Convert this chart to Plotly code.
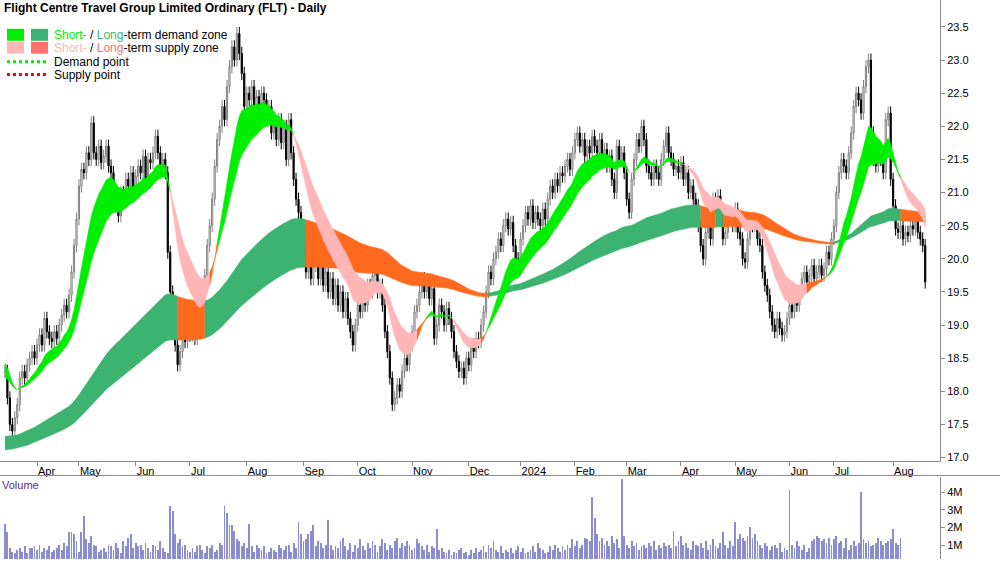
import numpy as np
import pandas as pd
import plotly.graph_objects as go

closes = [
18.3,17.9,17.5,17.4,17.6,17.8,18.2,18.3,18.2,18.4,
18.5,18.6,18.5,18.7,18.85,18.7,19.1,18.9,18.8,18.75,
18.9,18.8,19.0,19.15,19.3,19.2,19.45,19.8,20.2,20.6,
21.1,21.35,21.3,21.6,21.5,22.05,21.6,21.5,21.7,21.45,
21.55,21.7,21.4,21.3,21.0,20.8,20.65,21.0,20.9,21.2,
21.1,21.3,21.0,21.25,21.4,21.3,21.55,21.2,21.5,21.45,
21.6,21.85,21.6,21.4,21.5,21.3,20.1,19.5,19.0,18.7,
18.4,18.6,18.9,18.75,19.0,18.85,19.05,18.8,18.9,19.1,
19.4,19.75,20.2,20.5,20.9,21.4,21.8,22.0,22.3,22.1,
22.6,22.9,23.2,23.0,23.4,23.1,22.8,22.3,22.5,22.4,
22.6,22.2,22.45,22.3,22.5,22.4,22.1,22.3,21.9,22.0,
21.8,22.1,21.75,22.0,21.5,22.1,21.6,21.2,20.9,20.7,
20.45,20.2,19.8,20.0,19.7,19.9,20.1,19.7,19.9,19.6,
19.8,19.5,19.7,19.4,19.6,19.3,19.5,19.2,19.4,19.1,
18.9,18.7,19.0,19.3,19.2,19.45,19.3,19.6,19.5,19.75,
19.8,19.5,19.6,19.3,18.9,18.6,18.2,17.8,17.9,18.1,
18.0,18.3,18.5,18.4,18.7,18.9,19.2,19.3,19.5,19.7,
19.5,19.6,19.4,19.55,18.8,19.0,19.3,19.2,19.0,19.25,
19.1,18.9,18.6,18.45,18.3,18.35,18.2,18.5,18.4,18.7,
18.6,18.8,18.75,19.0,19.2,19.5,19.8,19.7,20.0,20.1,
20.3,20.2,20.5,20.6,20.45,20.55,20.2,20.0,19.85,20.3,
20.5,20.7,20.6,20.8,20.55,20.7,20.6,20.5,20.75,20.6,
20.9,21.1,21.0,21.2,21.1,21.3,21.25,21.4,21.5,21.35,
21.6,21.8,21.9,21.7,21.8,21.55,21.7,21.6,21.85,21.7,
21.6,21.8,21.5,21.65,21.4,21.55,21.2,21.0,21.7,21.5,
21.6,21.3,20.9,20.7,21.2,21.5,21.8,21.7,22.0,21.8,
21.4,21.3,21.2,21.4,21.3,21.2,21.5,21.7,21.9,21.6,
21.5,21.35,21.4,21.3,21.45,21.2,21.3,21.0,21.1,20.9,
20.8,20.5,20.2,20.0,20.4,20.6,20.3,20.9,20.8,20.95,
20.6,20.3,20.4,20.7,20.6,20.5,20.75,20.4,20.3,20.0,
19.95,20.3,20.6,20.5,20.55,20.3,20.2,19.8,19.6,19.45,
19.2,19.0,18.9,19.1,18.95,18.85,18.9,19.1,19.3,19.2,
19.4,19.3,19.5,19.7,19.8,19.65,19.75,19.9,19.7,19.8,
19.9,19.75,19.85,20.1,20.0,20.3,20.5,21.0,21.3,21.5,
21.4,21.3,21.6,21.9,22.3,22.5,22.4,22.2,22.6,22.9,
23.0,21.9,21.5,21.4,21.6,21.5,21.3,22.1,22.2,21.2,
20.8,20.45,20.4,20.5,20.3,20.4,20.35,20.5,20.45,20.6,
20.4,20.3,20.2,19.65]

volume = [
2.2,1.7,0.8,0.6,0.5,0.7,0.8,0.6,0.9,0.5,
0.8,0.8,0.9,0.7,1.0,0.6,0.8,0.7,0.9,0.6,
0.7,0.8,1.0,0.7,1.1,0.9,1.7,1.7,1.6,1.2,
0.6,1.7,2.6,1.3,1.1,1.5,1.0,0.9,0.6,0.7,
0.8,0.6,1.0,0.9,0.7,1.1,0.8,0.5,1.2,0.9,
1.4,1.6,0.8,1.1,0.9,1.0,0.7,1.1,0.8,0.6,
1.0,0.9,0.7,1.2,0.8,0.6,0.5,3.2,2.9,1.6,
1.1,1.3,0.9,1.0,0.7,0.6,0.8,0.6,0.9,1.0,
0.7,0.5,0.9,0.8,1.0,0.6,0.7,1.1,1.0,3.2,
2.8,2.1,2.1,1.8,1.3,1.2,0.9,1.1,0.8,2.2,
0.9,0.6,1.0,0.8,0.7,0.9,0.5,0.6,0.8,0.7,
0.6,1.0,0.8,0.7,0.9,1.0,0.6,1.1,0.8,2.3,
1.6,1.2,1.3,1.6,1.8,2.1,0.9,1.2,1.1,0.8,
1.0,2.4,1.0,0.7,0.9,0.8,1.2,1.4,0.9,0.7,
1.1,0.6,1.0,0.8,1.3,0.9,0.7,1.1,0.8,1.2,
1.0,0.6,0.9,1.3,1.1,0.7,1.0,0.8,1.2,1.4,
0.8,1.1,0.9,1.2,1.0,0.7,0.8,1.3,1.1,0.9,
0.7,1.0,0.6,0.9,0.8,1.9,0.7,0.8,0.6,0.5,
0.7,0.4,0.6,0.5,0.7,0.8,0.5,0.6,0.4,0.7,
0.5,0.8,0.6,0.7,0.9,0.6,1.0,0.8,1.2,0.7,
0.6,0.9,0.5,0.7,0.6,0.8,0.5,0.7,0.9,0.6,
0.8,0.5,0.6,0.7,0.9,0.6,1.1,0.8,0.7,0.5,
0.6,0.9,0.7,1.0,0.8,0.6,0.9,0.7,1.0,0.8,
1.3,0.9,1.2,0.8,1.0,1.4,1.3,1.2,3.7,2.5,
1.6,1.2,1.4,1.0,1.2,0.9,1.5,1.1,1.3,0.8,
4.7,1.5,1.0,0.8,1.2,0.9,1.1,0.7,0.9,1.0,
0.8,1.1,0.9,1.2,0.7,1.0,0.8,1.1,0.9,1.0,
0.8,1.8,0.9,1.2,1.5,1.0,1.1,0.8,0.7,1.2,
1.0,0.9,1.1,0.8,1.2,0.7,1.0,1.3,0.9,0.8,
1.1,1.7,1.0,0.8,1.2,0.9,2.3,1.3,1.6,1.4,
1.2,1.5,2.0,1.4,1.6,1.2,1.0,0.8,1.1,0.9,
0.7,0.9,1.0,0.8,1.1,0.6,0.8,0.7,4.1,1.0,
0.8,1.2,0.9,0.7,1.0,0.6,0.8,1.2,1.3,1.5,
1.4,1.2,1.3,1.1,1.4,1.0,1.3,1.5,1.1,1.2,
0.8,1.4,0.7,1.0,1.2,0.9,1.1,4.0,1.3,1.1,
1.2,0.9,1.0,1.1,1.4,1.2,1.0,1.1,1.2,1.3,
1.9,1.1,1.0,1.4]

month_idx = [13, 30, 53, 75, 98, 121, 143, 165, 188, 209, 231, 252, 274, 296, 318, 336, 360]
month_lbl = ["Apr","May","Jun","Jul","Aug","Sep","Oct","Nov","Dec","2024","Feb","Mar","Apr","May","Jun","Jul","Aug"]
price_ticks = [17.0,17.5,18.0,18.5,19.0,19.5,20.0,20.5,21.0,21.5,22.0,22.5,23.0,23.5]

short_seed = [18.45, 18.2]
long_seed = [17.3, 17.1]

n = len(closes)
c = np.array(closes)
x = np.arange(n)
o = np.concatenate([[c[0]], c[:-1]])
hi = np.maximum(o, c) + 0.1
lo = np.minimum(o, c) - 0.1

def ema(vals, span, seed):
    a = 2.0 / (span + 1)
    out = []
    prev = seed
    for v in vals:
        prev = prev + a * (v - prev)
        out.append(prev)
    return np.array(out)

e_s1 = ema(c, 14, short_seed[0])
e_s2 = ema(c, 26, short_seed[1])
e_l1 = ema(c, 120, long_seed[0])
e_l2 = ema(c, 190, long_seed[1])
c_sm = ema(c, 4, c[0])

fig = go.Figure()

def band(a, b, cls, colors):
    start = 0
    for i in range(1, n + 1):
        if i == n or cls[i] != cls[start]:
            end = min(i, n - 1)
            xs = list(x[start:end + 1])
            top = list(np.maximum(a, b)[start:end + 1])
            bot = list(np.minimum(a, b)[start:end + 1])
            col = colors[cls[start]]
            fig.add_trace(go.Scatter(x=xs + xs[::-1], y=top + bot[::-1], fill="toself",
                                     fillcolor=col, line=dict(width=0.5, color=col),
                                     mode="lines", hoverinfo="skip", showlegend=False,
                                     xaxis="x", yaxis="y"))
            start = i

long_cls = np.where(c_sm >= np.maximum(e_l1, e_l2) - 0.1, 0, 1)
band(e_l1, e_l2, long_cls, ["#3CB371", "#FF6A1F"])
short_cls = np.where(e_s1 >= e_s2, 0, np.where(c_sm > np.maximum(e_s1, e_s2), 2, 1))
band(e_s1, e_s2, short_cls, ["#00EE00", "#FFB6B6", "#FF6A1F"])

fig.add_trace(go.Candlestick(x=x, open=o, high=hi, low=lo, close=c,
    increasing=dict(fillcolor="white", line=dict(color="#808080", width=1)),
    decreasing=dict(fillcolor="black", line=dict(color="black", width=1)),
    whiskerwidth=0, showlegend=False, xaxis="x", yaxis="y"))

fig.add_trace(go.Bar(x=x, y=volume, marker=dict(color="#8C8CD0", line=dict(width=0)),
                     width=0.35, showlegend=False, xaxis="x2", yaxis="y2"))

xr = [-2, 379]
fig.update_layout(
    width=1000, height=562, margin=dict(l=0, r=0, t=0, b=0),
    paper_bgcolor="white", plot_bgcolor="white",
    font=dict(family="Liberation Sans, Arial", size=11, color="black"),
    xaxis=dict(domain=[0, 0.94], range=xr, tickvals=month_idx, ticktext=month_lbl,
               ticks="outside", ticklen=4, tickcolor="#888", showline=True, linecolor="#888",
               ticklabelposition="outside right", showgrid=False, rangeslider=dict(visible=False),
               anchor="y", tickfont=dict(size=11)),
    yaxis=dict(domain=[1 - 463 / 562, 1], range=[16.955, 23.907], side="right",
               tickvals=price_ticks, tickformat=".1f", ticks="outside", ticklen=4,
               tickcolor="#888", showline=True, linecolor="#888", showgrid=False, zeroline=False,
               anchor="x", tickfont=dict(size=11)),
    xaxis2=dict(domain=[0, 0.94], range=xr, showticklabels=False, showgrid=False,
                anchor="y2", showline=False),
    yaxis2=dict(domain=[0, 1 - 480 / 562], range=[0.21, 4.84], side="right",
                tickvals=[1, 2, 3, 4], ticktext=["1M", "2M", "3M", "4M"], ticks="outside",
                ticklen=4, tickcolor="#888", showline=True, linecolor="#888", showgrid=False,
                zeroline=False, anchor="x2", tickfont=dict(size=11)),
    bargap=0,
)

shapes = [
    dict(type="line", xref="paper", yref="paper", x0=0, x1=1, y0=1 - 478 / 562, y1=1 - 478 / 562,
         line=dict(color="#888", width=1)),
]
def px(xp, yp):
    return xp / 1000, 1 - yp / 562
for (x0, col) in [(7, "#00EE00"), (31, "#3CB371")]:
    a0, b0 = px(x0, 29); a1, b1 = px(x0 + 17, 41)
    shapes.append(dict(type="rect", xref="paper", yref="paper", x0=a0, x1=a1, y0=b1, y1=b0,
                       fillcolor=col, line=dict(width=0)))
for (x0, col) in [(7, "#FFB6B6"), (31, "#FF7070")]:
    a0, b0 = px(x0, 42); a1, b1 = px(x0 + 17, 54)
    shapes.append(dict(type="rect", xref="paper", yref="paper", x0=a0, x1=a1, y0=b1, y1=b0,
                       fillcolor=col, line=dict(width=0)))
for (yp, col) in [(62, "#00EE00"), (75, "#FF0000")]:
    a0, b0 = px(7, yp); a1, _ = px(48, yp)
    shapes.append(dict(type="line", xref="paper", yref="paper", x0=a0, x1=a1, y0=b0, y1=b0,
                       line=dict(color=col, width=3, dash="dot")))
fig.update_layout(shapes=shapes)

def ann(xp, yp, text, size=12, color="black"):
    a, b = px(xp, yp)
    fig.add_annotation(xref="paper", yref="paper", x=a, y=b, text=text, showarrow=False,
                       xanchor="left", yanchor="middle", font=dict(size=size, color=color))

ann(2, 8, "<b>Flight Centre Travel Group Limited Ordinary (FLT) - Daily</b>", 12)
ann(52, 35, "<span style='color:#00EE00'>Short-</span> / <span style='color:#3CB371'>Long</span>-term demand zone")
ann(52, 48, "<span style='color:#FFB6B6'>Short-</span> / <span style='color:#FF7070'>Long</span>-term supply zone")
ann(52, 62, "Demand point")
ann(52, 75, "Supply point")
ann(0, 488, "Volume", 11, "#5B2C8F")

fig.write_html("out.html", config={"displayModeBar": False})
with open("out.html", "r", encoding="utf-8") as f:
    html = f.read()
html = html.replace("<head>", "<head><style>html,body{margin:0;padding:0;overflow:hidden}</style>", 1)
with open("out.html", "w", encoding="utf-8") as f:
    f.write(html)
